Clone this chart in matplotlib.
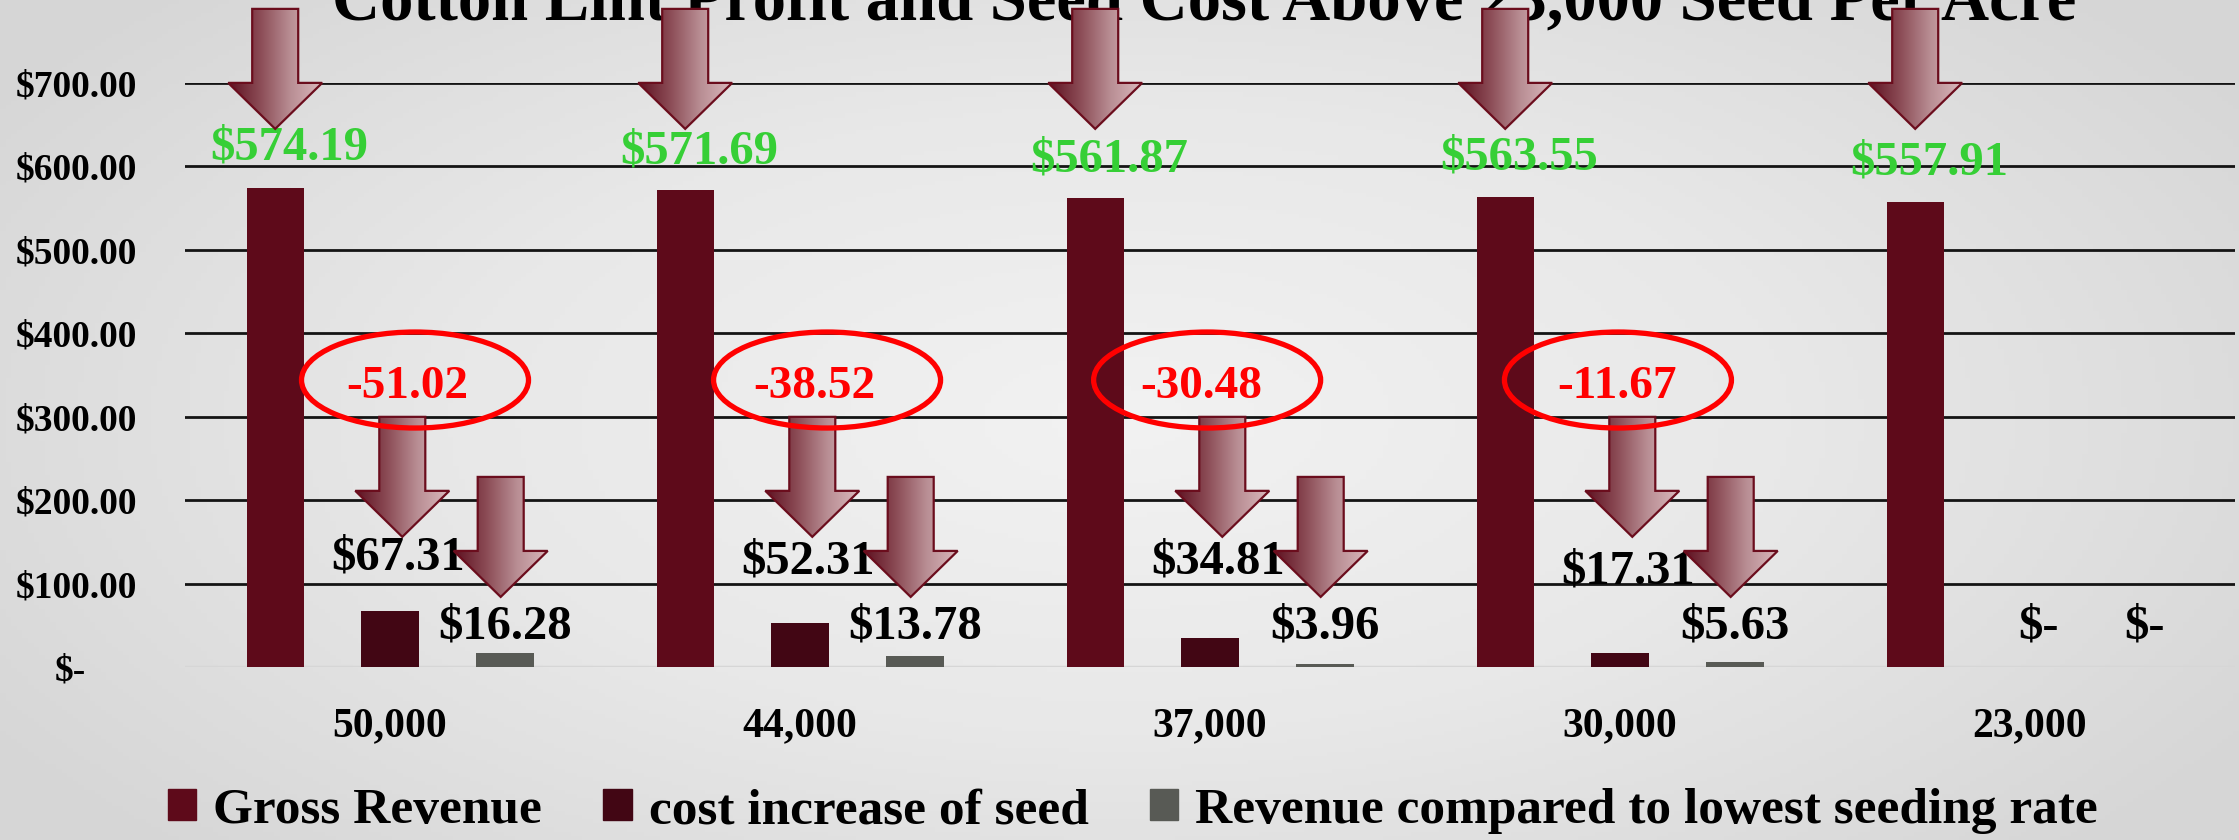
import numpy as np
import matplotlib
matplotlib.use("Agg")
import matplotlib.pyplot as plt
from matplotlib.colors import LinearSegmentedColormap
from matplotlib.patches import Polygon, Ellipse, Patch

# ---- data ----
seed_rates = ["50,000", "44,000", "37,000", "30,000", "23,000"]
gross_revenue = [574.19, 571.69, 561.87, 563.55, 557.91]
cost_increase = [67.31, 52.31, 34.81, 17.31, 0.0]
revenue_vs_lowest = [16.28, 13.78, 3.96, 5.63, 0.0]
net_difference = [-51.02, -38.52, -30.48, -11.67]   # circled values (first 4 rates)

TITLE = "Cotton Lint Profit and Seed Cost Above 23,000 Seed Per Acre"
SERIES = ["Gross Revenue", "cost increase of seed", "Revenue compared to lowest seeding rate"]

# ---- styling / layout ----
W, H = 2239, 840
FONT = "Liberation Serif"
C_GROSS, C_COST, C_REV = "#5e0a1a", "#420614", "#585a55"
GREEN, RED = "#36cf36", "#ff0000"
BAR_W, OFF = 0.14, 0.28

# label y positions (data units), as placed on the slide
gross_lbl_y = [623, 618, 608, 611, 605]
cost_lbl_y = [131, 127, 126, 115, 48]
rev_lbl_y = [49, 49, 49, 49, 48]
ell_dx = [0.061, 0.066, -0.007, -0.005]
ell_txt_dx = [0.041, 0.034, -0.022, -0.007]


def money(v):
    return "$-" if v == 0 else f"${v:,.2f}"


plt.rcParams["font.family"] = [FONT, "DejaVu Serif"]
plt.rcParams["font.weight"] = "bold"

fig = plt.figure(figsize=(W / 100, H / 100), dpi=100)
fig.patch.set_facecolor("#e8e8e8")

# soft paper-like background (smooth vignette)
bg = fig.add_axes([0, 0, 1, 1], zorder=-10)
yy, xx = np.mgrid[0:1:200j, 0:1:400j]
r = np.sqrt(((xx - 0.5) / 0.8) ** 2 + ((yy - 0.5) / 1.0) ** 2)
bg_cmap = LinearSegmentedColormap.from_list("bg", ["#f2f2f2", "#e8e8e8", "#d6d6d6"])
bg.imshow(r, cmap=bg_cmap, vmin=0, vmax=0.75, aspect="auto", extent=(0, 1, 0, 1))
bg.set_axis_off()

left, right, bottom, top = 185, 2235, 667, 83
ax = fig.add_axes([left / W, 1 - bottom / H, (right - left) / W, (bottom - top) / H], zorder=1)
ax.set_facecolor("none")

x = np.arange(len(seed_rates))
ax.bar(x - OFF, gross_revenue, BAR_W, color=C_GROSS, zorder=3)
ax.bar(x, cost_increase, BAR_W, color=C_COST, zorder=3)
ax.bar(x + OFF, revenue_vs_lowest, BAR_W, color=C_REV, zorder=3)

ax.set_xlim(-0.5, len(seed_rates) - 0.5)
ax.set_ylim(0, 700)
ax.set_yticks(np.arange(0, 701, 100))
ax.set_yticklabels(["" if v == 0 else f"${v:,.2f}" for v in range(0, 701, 100)])
ax.annotate("$-", xy=(0, 0), xycoords=("axes fraction", "data"), xytext=(-99, 0),
            textcoords="offset pixels", ha="right", va="center_baseline",
            fontsize=27, fontweight="bold")
ax.set_xticks(x)
ax.set_xticklabels(seed_rates)
ax.tick_params(axis="y", length=0, pad=34.5, labelsize=27)
ax.tick_params(axis="x", length=0, pad=29, labelsize=30)
for s in ax.spines.values():
    s.set_visible(False)
ax.grid(axis="y", color="#141414", lw=2)
ax.axhline(0, color="#d6d6d6", lw=2.5, zorder=2)
ax.set_axisbelow(True)

# data labels
for i in range(len(seed_rates)):
    ax.text(x[i] - OFF + 0.035, gross_lbl_y[i], money(gross_revenue[i]), color=GREEN,
            ha="center", va="center", fontsize=35, fontweight="bold", zorder=4)
    ax.text(x[i] + 0.02, cost_lbl_y[i], money(cost_increase[i]), color="black",
            ha="center", va="center", fontsize=35, fontweight="bold", zorder=4)
    ax.text(x[i] + OFF, rev_lbl_y[i], money(revenue_vs_lowest[i]), color="black",
            ha="center", va="center", fontsize=35, fontweight="bold", zorder=4)

# ---- overlay for the slide decorations (pixel coords, y down) ----
ov = fig.add_axes([0, 0, 1, 1], zorder=5)
ov.set_xlim(0, W)
ov.set_ylim(H, 0)
ov.set_axis_off()
ov.patch.set_alpha(0)


def to_px(xd, yd):
    px, py = ax.transData.transform((xd, yd))
    return px, H - py


arrow_cmap = LinearSegmentedColormap.from_list(
    "arrow", ["#5e1020", "#8a4a54", "#b98e94", "#d9b8bc"])
grad = np.linspace(0, 1, 256).reshape(1, -1)


def block_arrow(xd, yd, length=120, shaft=46, head=94, head_len=46):
    tx, ty = to_px(xd, yd)
    pts = [(tx - shaft / 2, ty - length), (tx + shaft / 2, ty - length),
           (tx + shaft / 2, ty - head_len), (tx + head / 2, ty - head_len),
           (tx, ty), (tx - head / 2, ty - head_len), (tx - shaft / 2, ty - head_len)]
    poly = Polygon(pts, closed=True, facecolor="none", edgecolor="#6b0d1d", lw=1.6, zorder=6)
    im = ov.imshow(grad, cmap=arrow_cmap, aspect="auto", zorder=5,
                   extent=(tx - head / 2, tx + head / 2, ty, ty - length))
    ov.add_patch(poly)
    im.set_clip_path(poly)


# arrows pointing at each gross revenue bar
for i in range(len(seed_rates)):
    block_arrow(x[i] - OFF, 645)

# arrows + circled differences for the seeding rates above 23,000
for i, d in enumerate(net_difference):
    block_arrow(x[i] + 0.03, 156)
    block_arrow(x[i] + OFF - 0.01, 84)
    ex, ey = to_px(x[i] + ell_dx[i], 344)
    ov.add_patch(Ellipse((ex, ey), 227, 96, facecolor="none", edgecolor=RED, lw=3.8, zorder=8))
    tx, ty = to_px(x[i] + ell_txt_dx[i], 336)
    ov.text(tx, ty, f"{d:.2f}", color=RED, ha="center", va="center",
            fontsize=34, fontweight="bold", zorder=9)

# title (partly hidden by the arrows, as on the slide)
fig.text(0.538, 1 - 20 / H, TITLE, ha="center", va="baseline", fontsize=48,
         fontweight="bold", color="black", zorder=3)

handles = [Patch(color=c) for c in (C_GROSS, C_COST, C_REV)]
fig.legend(handles, SERIES, loc="center", bbox_to_anchor=(0.506, 0.0345), ncol=3,
           frameon=False, prop={"family": FONT, "weight": "bold", "size": 37},
           handlelength=0.55, handleheight=0.55, handletextpad=0.33,
           columnspacing=1.2, borderaxespad=0, borderpad=0)

fig.savefig("out.png", dpi=100, facecolor=fig.get_facecolor())
